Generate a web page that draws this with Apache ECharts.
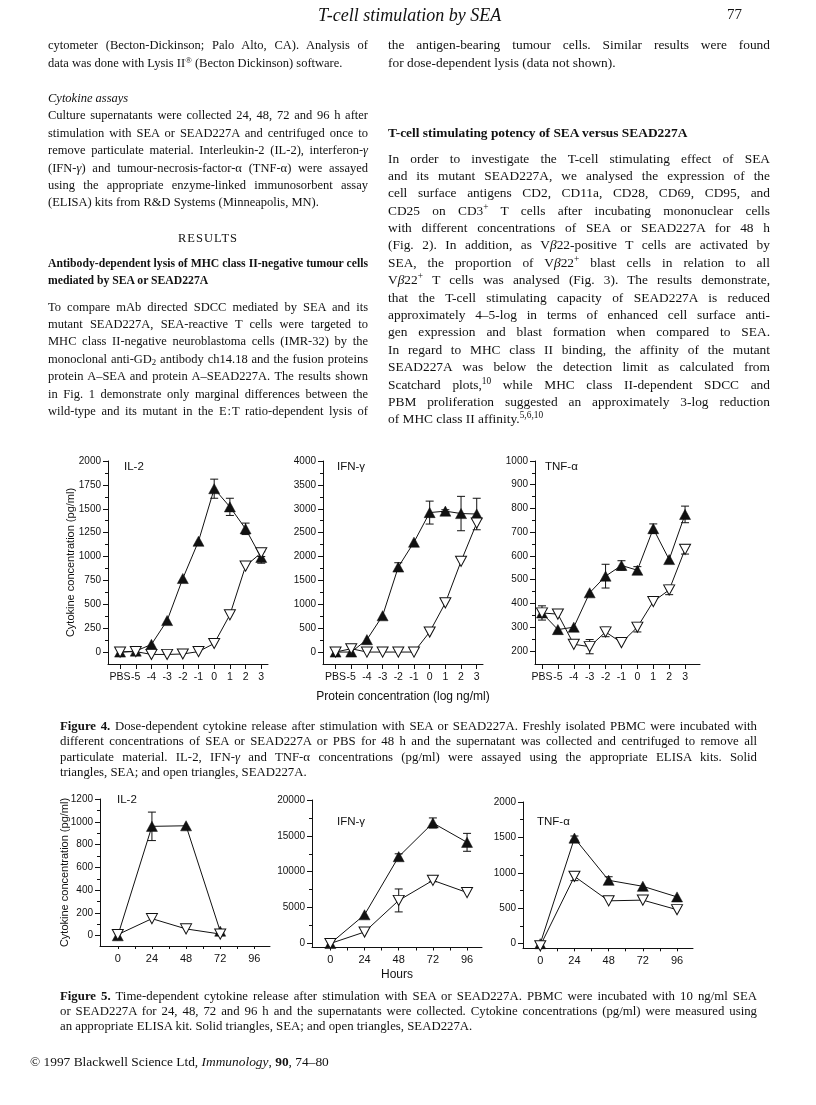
<!DOCTYPE html>
<html><head><meta charset="utf-8">
<script src="https://cdn.jsdelivr.net/npm/echarts@6/dist/echarts.min.js"></script>
<style>
html,body{margin:0;padding:0;background:#fff;}
#page{position:relative;width:816px;height:1105px;overflow:hidden;background:#fff;}
#chart{position:absolute;left:0;top:0;width:816px;height:1105px;}
.ln{position:absolute;font-family:"Liberation Serif","Times New Roman",serif;font-size:12.5px;line-height:16px;height:16px;white-space:nowrap;color:#111;z-index:5;}
.r{font-size:13.4px;}
.cap{font-size:12.8px;}
sup{font-size:0.7em;line-height:0;vertical-align:0.5em;}
sub{font-size:0.7em;line-height:0;vertical-align:-0.2em;}
</style></head>
<body><div id="page">
<div id="chart"></div>

<div class="ln" style="left:318px;top:5px;font-size:18px;line-height:20px;height:20px;font-style:italic;">T-cell stimulation by SEA</div>
<div class="ln" style="left:727px;top:6px;font-size:15px;">77</div>

<!-- left column -->
<div class="ln j" data-w="320" style="left:48px;top:37px;">cytometer (Becton-Dickinson; Palo Alto, CA). Analysis of</div>
<div class="ln" style="left:48px;top:55px;">data was done with Lysis II<sup>®</sup> (Becton Dickinson) software.</div>
<div class="ln" style="left:48px;top:90px;font-style:italic;">Cytokine assays</div>
<div class="ln j" data-w="320" style="left:48px;top:107px;">Culture supernatants were collected 24, 48, 72 and 96&nbsp;h after</div>
<div class="ln j" data-w="320" style="left:48px;top:125px;">stimulation with SEA or SEAD227A and centrifuged once to</div>
<div class="ln j" data-w="320" style="left:48px;top:142px;">remove particulate material. Interleukin-2 (IL-2), interferon-<i>γ</i></div>
<div class="ln j" data-w="320" style="left:48px;top:160px;">(IFN-<i>γ</i>) and tumour-necrosis-factor-α (TNF-α) were assayed</div>
<div class="ln j" data-w="320" style="left:48px;top:177px;">using the appropriate enzyme-linked immunosorbent assay</div>
<div class="ln" style="left:48px;top:194px;">(ELISA) kits from R&amp;D Systems (Minneapolis, MN).</div>
<div class="ln" style="left:48px;top:230px;width:320px;text-align:center;letter-spacing:1px;">RESULTS</div>
<div class="ln j" data-w="320" style="left:48px;top:256px;font-weight:bold;font-size:11.7px;">Antibody-dependent lysis of MHC class II-negative tumour cells</div>
<div class="ln" style="left:48px;top:273px;font-weight:bold;font-size:11.7px;">mediated by SEA or SEAD227A</div>
<div class="ln j" data-w="320" style="left:48px;top:299px;">To compare mAb directed SDCC mediated by SEA and its</div>
<div class="ln j" data-w="320" style="left:48px;top:316px;">mutant SEAD227A, SEA-reactive T cells were targeted to</div>
<div class="ln j" data-w="320" style="left:48px;top:333px;">MHC class II-negative neuroblastoma cells (IMR-32) by the</div>
<div class="ln j" data-w="320" style="left:48px;top:351px;">monoclonal anti-GD<sub>2</sub> antibody ch14.18 and the fusion proteins</div>
<div class="ln j" data-w="320" style="left:48px;top:368px;">protein A–SEA and protein A–SEAD227A. The results shown</div>
<div class="ln j" data-w="320" style="left:48px;top:386px;">in Fig. 1 demonstrate only marginal differences between the</div>
<div class="ln j" data-w="320" style="left:48px;top:403px;">wild-type and its mutant in the E&#8202;:&#8202;T ratio-dependent lysis of</div>

<!-- right column -->
<div class="ln r j" data-w="382" style="left:388px;top:37px;">the antigen-bearing tumour cells. Similar results were found</div>
<div class="ln r" style="left:388px;top:55px;">for dose-dependent lysis (data not shown).</div>
<div class="ln r" style="left:388px;top:125px;font-weight:bold;">T-cell stimulating potency of SEA versus SEAD227A</div>
<div class="ln r j" data-w="382" style="left:388px;top:151px;">In order to investigate the T-cell stimulating effect of SEA</div>
<div class="ln r j" data-w="382" style="left:388px;top:168px;">and its mutant SEAD227A, we analysed the expression of the</div>
<div class="ln r j" data-w="382" style="left:388px;top:185px;">cell surface antigens CD2, CD11a, CD28, CD69, CD95, and</div>
<div class="ln r j" data-w="382" style="left:388px;top:203px;">CD25 on CD3<sup>+</sup> T cells after incubating mononuclear cells</div>
<div class="ln r j" data-w="382" style="left:388px;top:220px;">with different concentrations of SEA or SEAD227A for 48&nbsp;h</div>
<div class="ln r j" data-w="382" style="left:388px;top:237px;">(Fig. 2). In addition, as V<i>β</i>22-positive T cells are activated by</div>
<div class="ln r j" data-w="382" style="left:388px;top:255px;">SEA, the proportion of V<i>β</i>22<sup>+</sup> blast cells in relation to all</div>
<div class="ln r j" data-w="382" style="left:388px;top:272px;">V<i>β</i>22<sup>+</sup> T cells was analysed (Fig. 3). The results demonstrate,</div>
<div class="ln r j" data-w="382" style="left:388px;top:290px;">that the T-cell stimulating capacity of SEAD227A is reduced</div>
<div class="ln r j" data-w="382" style="left:388px;top:307px;">approximately 4–5-log in terms of enhanced cell surface anti-</div>
<div class="ln r j" data-w="382" style="left:388px;top:324px;">gen expression and blast formation when compared to SEA.</div>
<div class="ln r j" data-w="382" style="left:388px;top:342px;">In regard to MHC class II binding, the affinity of the mutant</div>
<div class="ln r j" data-w="382" style="left:388px;top:359px;">SEAD227A was below the detection limit as calculated from</div>
<div class="ln r j" data-w="382" style="left:388px;top:377px;">Scatchard plots,<sup>10</sup> while MHC class II-dependent SDCC and</div>
<div class="ln r j" data-w="382" style="left:388px;top:394px;">PBM proliferation suggested an approximately 3-log reduction</div>
<div class="ln r" style="left:388px;top:411px;">of MHC class II affinity.<sup>5,6,10</sup></div>

<!-- captions -->
<div class="ln cap j" data-w="697" style="left:60px;top:718px;"><b>Figure 4.</b> Dose-dependent cytokine release after stimulation with SEA or SEAD227A. Freshly isolated PBMC were incubated with</div>
<div class="ln cap j" data-w="697" style="left:60px;top:733px;">different concentrations of SEA or SEAD227A or PBS for 48&nbsp;h and the supernatant was collected and centrifuged to remove all</div>
<div class="ln cap j" data-w="697" style="left:60px;top:749px;">particulate material. IL-2, IFN-<i>γ</i> and TNF-α concentrations (pg/ml) were assayed using the appropriate ELISA kits. Solid</div>
<div class="ln cap" style="left:60px;top:764px;">triangles, SEA; and open triangles, SEAD227A.</div>

<div class="ln cap j" data-w="697" style="left:60px;top:988px;"><b>Figure 5.</b> Time-dependent cytokine release after stimulation with SEA or SEAD227A. PBMC were incubated with 10&nbsp;ng/ml SEA</div>
<div class="ln cap j" data-w="697" style="left:60px;top:1003px;">or SEAD227A for 24, 48, 72 and 96&nbsp;h and the supernatants were collected. Cytokine concentrations (pg/ml) were measured using</div>
<div class="ln cap" style="left:60px;top:1018px;">an appropriate ELISA kit. Solid triangles, SEA; and open triangles, SEAD227A.</div>

<div class="ln" style="left:30px;top:1054px;font-size:13.4px;">© 1997 Blackwell Science Ltd, <i>Immunology</i>, <b>90</b>, 74–80</div>
</div>

<script>
// ---------- Figure 4: dose response (x = index into doseLabels) ----------
var doseLabels = ['PBS', '-5', '-4', '-3', '-2', '-1', '0', '1', '2', '3'];
var doseX = [0, 1, 2, 3, 4, 5, 6, 7, 8, 9];

var il2DoseSEA      = [0, 10, 80, 330, 770, 1160, 1710, 1520, 1290, 990];
var il2DoseSEAErr   = [null, null, null, null, null, null, 100, 90, 60, 60];
var il2DoseSEAD     = [0, 5, -25, -25, -20, 5, 90, 390, 900, 1040];
var il2DoseSEADErr  = [null, null, null, null, null, null, null, null, null, 40];

var ifnDoseSEA      = [0, 0, 260, 760, 1780, 2300, 2920, 2950, 2900, 2890];
var ifnDoseSEAErr   = [null, null, null, null, 90, null, 240, 30, 360, 330];
var ifnDoseSEAD     = [0, 70, 0, 0, 0, 0, 420, 1030, 1900, 2700];
var ifnDoseSEADErr  = [null, null, null, null, null, null, null, null, null, null];

var tnfDoseSEA      = [360, 290, 300, 445, 515, 560, 540, 715, 585, 775];
var tnfDoseSEAErr   = [30, null, null, null, 50, 20, 15, 20, null, 35];
var tnfDoseSEAD     = [360, 355, 228, 218, 280, 235, 300, 408, 457, 628];
var tnfDoseSEADErr  = [null, null, null, 30, 20, null, 20, null, 20, 20];

var il2DoseTicks = [0, 250, 500, 750, 1000, 1250, 1500, 1750, 2000];
var il2DoseMinor = [125, 375, 625, 875, 1125, 1375, 1625, 1875];
var ifnDoseTicks = [0, 500, 1000, 1500, 2000, 2500, 3000, 3500, 4000];
var ifnDoseMinor = [250, 750, 1250, 1750, 2250, 2750, 3250, 3750];
var tnfDoseTicks = [200, 300, 400, 500, 600, 700, 800, 900, 1000];
var tnfDoseMinor = [250, 350, 450, 550, 650, 750, 850, 950];

// ---------- Figure 5: time course (hours) ----------
var hours = [0, 24, 48, 72, 96];
var hourTicks = [0, 24, 48, 72, 96];
var hourMinor = [0, 12, 24, 36, 48, 60, 72, 84, 96];

var il2TimeHours   = [0, 24, 48, 72];
var il2TimeSEA     = [0, 960, 965, 40];
var il2TimeSEAErr  = [null, 125, null, null];
var il2TimeSEAD    = [10, 150, 60, 15];
var il2TimeSEADErr = [null, null, null, null];

var ifnTimeSEA     = [0, 4000, 12100, 16800, 14100];
var ifnTimeSEAErr  = [null, null, 400, 700, 1250];
var ifnTimeSEAD    = [0, 1600, 6000, 8800, 7100];
var ifnTimeSEADErr = [null, null, 1600, 200, null];

var tnfTimeSEA     = [0, 1490, 895, 810, 660];
var tnfTimeSEAErr  = [null, 30, 50, null, null];
var tnfTimeSEAD    = [-30, 950, 605, 615, 480];
var tnfTimeSEADErr = [null, 60, null, null, null];

var il2TimeTicks = [0, 200, 400, 600, 800, 1000, 1200];
var il2TimeMinor = [100, 300, 500, 700, 900, 1100];
var ifnTimeTicks = [0, 5000, 10000, 15000, 20000];
var ifnTimeMinor = [2500, 7500, 12500, 17500];
var tnfTimeTicks = [0, 500, 1000, 1500, 2000];
var tnfTimeMinor = [250, 750, 1250, 1750];

// ---------- justify text lines ----------
document.querySelectorAll('.j').forEach(function (el) {
  var w = parseFloat(el.getAttribute('data-w'));
  el.style.display = 'inline-block';
  var nat = el.getBoundingClientRect().width;
  var n = (el.textContent.match(/[ \u00a0]/g) || []).length;
  if (n > 0) el.style.wordSpacing = ((w - nat) / n) + 'px';
});

// ---------- chart ----------
var FONT = '"Liberation Sans", Arial, sans-serif';
var BLACK = '#111';

var grids = [
  { left: 108, top: 461, width: 160, height: 203 },
  { left: 323, top: 461, width: 160, height: 203 },
  { left: 535, top: 461, width: 165, height: 203 },
  { left: 100, top: 799, width: 170, height: 147 },
  { left: 312, top: 800, width: 170, height: 147.5 },
  { left: 523, top: 802, width: 170, height: 146.3 }
];

var xAxes = [], yAxes = [], series = [];
var plain = function (v) { return String(v); };

function addX(g, min, max, tickVals, labelVals, fmt, fs, name, nameGap, tickLen, margin) {
  xAxes.push({
    type: 'value', gridIndex: g, min: min, max: max, position: 'bottom',
    axisLine: { show: true, onZero: false, lineStyle: { color: BLACK, width: 1 } },
    axisTick: { show: true, length: tickLen, customValues: tickVals, lineStyle: { color: BLACK, width: 1 } },
    axisLabel: { customValues: labelVals, formatter: fmt, color: BLACK, fontSize: fs, fontFamily: FONT,
      margin: margin, hideOverlap: false, interval: 0, showMinLabel: true, showMaxLabel: true },
    splitLine: { show: false },
    name: name || '', nameLocation: 'middle', nameGap: nameGap || 0, nameMoveOverlap: false,
    nameTextStyle: { color: BLACK, fontSize: 12, fontFamily: FONT }
  });
}
function addY(g, min, max, majors, minors, name, nameGap) {
  var idx = yAxes.length;
  yAxes.push({
    type: 'value', gridIndex: g, min: min, max: max, position: 'left',
    axisLine: { show: true, onZero: false, lineStyle: { color: BLACK, width: 1 } },
    axisTick: { show: true, length: 5, customValues: majors, lineStyle: { color: BLACK, width: 1 } },
    axisLabel: { customValues: majors, formatter: plain, color: BLACK, fontSize: 10, fontFamily: FONT,
      margin: 7, hideOverlap: false, showMinLabel: true, showMaxLabel: true },
    splitLine: { show: false },
    name: name || '', nameLocation: 'middle', nameGap: nameGap || 0, nameRotate: 90, nameMoveOverlap: false,
    nameTextStyle: { color: BLACK, fontSize: 11, fontFamily: FONT }
  });
  yAxes.push({
    type: 'value', gridIndex: g, min: min, max: max, position: 'left', offset: 0,
    axisLine: { show: false, onZero: false },
    axisTick: { show: true, length: 3, customValues: minors, lineStyle: { color: BLACK, width: 1 } },
    axisLabel: { show: false },
    splitLine: { show: false }
  });
  return idx;
}

function errData(xs, vals, errs) {
  var out = [];
  for (var i = 0; i < xs.length; i++) {
    if (errs[i] != null) out.push([xs[i], vals[i] - errs[i], vals[i] + errs[i]]);
  }
  return out;
}
function pairs(xs, vals) { return xs.map(function (x, i) { return [x, vals[i]]; }); }

function addPanel(xi, yi, xs, sea, seaErr, sead, seadErr, sym) {
  var errSeries = function (d) {
    return {
      type: 'custom', xAxisIndex: xi, yAxisIndex: yi, data: d, z: 2, silent: true,
      encode: { x: 0, y: [1, 2] },
      renderItem: function (params, api) {
        var x = api.value(0);
        var a = api.coord([x, api.value(1)]);
        var b = api.coord([x, api.value(2)]);
        var w = 4;
        var st = { stroke: BLACK, lineWidth: 1 };
        return { type: 'group', children: [
          { type: 'line', shape: { x1: a[0], y1: a[1], x2: b[0], y2: b[1] }, style: st },
          { type: 'line', shape: { x1: a[0] - w, y1: a[1], x2: a[0] + w, y2: a[1] }, style: st },
          { type: 'line', shape: { x1: b[0] - w, y1: b[1], x2: b[0] + w, y2: b[1] }, style: st }
        ] };
      }
    };
  };
  series.push(errSeries(errData(xs, sea, seaErr)));
  series.push(errSeries(errData(xs, sead, seadErr)));
  series.push({
    type: 'line', xAxisIndex: xi, yAxisIndex: yi, data: pairs(xs, sea), z: 3, silent: true,
    symbol: 'triangle', symbolSize: [sym, sym * 0.92], showAllSymbol: true,
    itemStyle: { color: BLACK, borderColor: BLACK, borderWidth: 0.5 },
    lineStyle: { color: BLACK, width: 1 }
  });
  series.push({
    type: 'line', xAxisIndex: xi, yAxisIndex: yi, data: pairs(xs, sead), z: 4, silent: true,
    symbol: 'triangle', symbolRotate: 180, symbolSize: [sym, sym * 0.92], showAllSymbol: true,
    itemStyle: { color: '#fff', borderColor: BLACK, borderWidth: 1 },
    lineStyle: { color: BLACK, width: 1 }
  });
}

var doseFmt = function (v) { return doseLabels[Math.round(v)]; };

// Figure 4
addX(0, -0.77, 9.43, doseX, doseX, doseFmt, 10.5, '', 0, 5, 8);
addX(1, -0.8, 9.4, doseX, doseX, doseFmt, 10.5, 'Protein concentration (log ng/ml)', 27, 5, 8);
addX(2, -0.44, 9.94, doseX, doseX, doseFmt, 10.5, '', 0, 5, 8);
var y0 = addY(0, -125, 2000, il2DoseTicks, il2DoseMinor, 'Cytokine concentration (pg/ml)', 32);
var y1 = addY(1, -250, 4000, ifnDoseTicks, ifnDoseMinor);
var y2 = addY(2, 145, 1000, tnfDoseTicks, tnfDoseMinor);
addPanel(0, y0, doseX, il2DoseSEA, il2DoseSEAErr, il2DoseSEAD, il2DoseSEADErr, 11);
addPanel(1, y1, doseX, ifnDoseSEA, ifnDoseSEAErr, ifnDoseSEAD, ifnDoseSEADErr, 11);
addPanel(2, y2, doseX, tnfDoseSEA, tnfDoseSEAErr, tnfDoseSEAD, tnfDoseSEADErr, 11);

// Figure 5
addX(3, -12.5, 107, hourMinor, hourTicks, plain, 11, '', 0, 3, 7);
addX(4, -12.9, 106.5, hourMinor, hourTicks, plain, 11, 'Hours', 21, 3, 7);
addX(5, -12.1, 107.2, hourMinor, hourTicks, plain, 11, '', 0, 3, 7);
var y3 = addY(3, -90, 1200, il2TimeTicks, il2TimeMinor, 'Cytokine concentration (pg/ml)', 30);
var y4 = addY(4, -560, 20000, ifnTimeTicks, ifnTimeMinor);
var y5 = addY(5, -65, 2000, tnfTimeTicks, tnfTimeMinor);
addPanel(3, y3, il2TimeHours, il2TimeSEA, il2TimeSEAErr, il2TimeSEAD, il2TimeSEADErr, 11);
addPanel(4, y4, hours, ifnTimeSEA, ifnTimeSEAErr, ifnTimeSEAD, ifnTimeSEADErr, 11);
addPanel(5, y5, hours, tnfTimeSEA, tnfTimeSEAErr, tnfTimeSEAD, tnfTimeSEADErr, 11);

function lab(x, y, t) {
  return { type: 'text', left: x, top: y, silent: true,
    style: { text: t, font: '11.5px ' + FONT, fill: BLACK } };
}

var chart = echarts.init(document.getElementById('chart'), null, { renderer: 'canvas' });
chart.setOption({
  animation: false,
  backgroundColor: 'transparent',
  grid: grids,
  xAxis: xAxes,
  yAxis: yAxes,
  series: series,
  graphic: [
    lab(124, 461, 'IL-2'),
    lab(337, 461, 'IFN-γ'),
    lab(545, 461, 'TNF-α'),
    lab(117, 794, 'IL-2'),
    lab(337, 816, 'IFN-γ'),
    lab(537, 816, 'TNF-α')
  ]
});
</script>
</body></html>
